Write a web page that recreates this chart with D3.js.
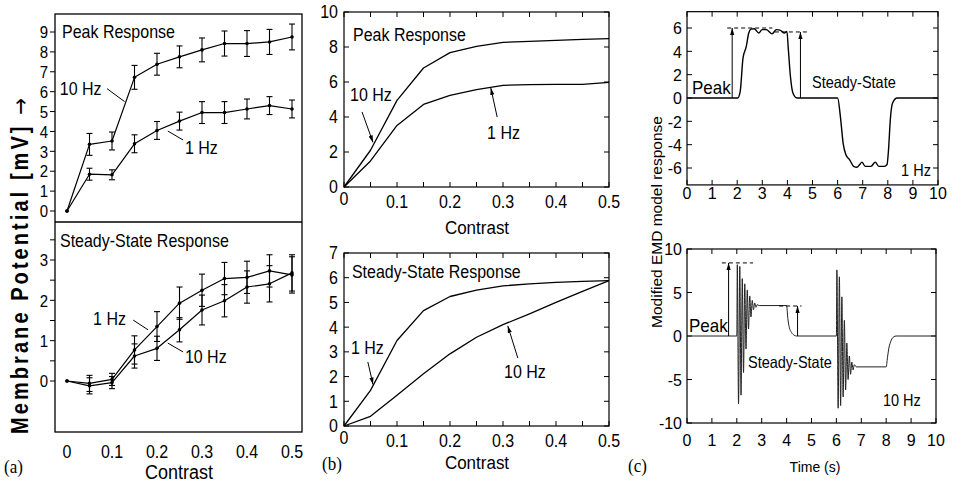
<!DOCTYPE html>
<html><head><meta charset="utf-8">
<script src="https://cdn.jsdelivr.net/npm/d3@7"></script>
<style>
body{margin:0;background:#fff}
svg{display:block}
text{font-family:"Liberation Sans",Arial,Helvetica,sans-serif;fill:#000}
</style></head>
<body><svg id="fig" width="955" height="482"></svg>
<script>
// ---------------- DATA ----------------
const contrast = [0,0.05,0.1,0.15,0.2,0.25,0.3,0.35,0.4,0.45,0.5];
// (a) experimental
const expPeak10    = [0,3.35,3.52,6.72,7.38,7.75,8.1,8.42,8.42,8.5,8.75];
const expPeak10Err = [0,0.55,0.45,0.6,0.55,0.55,0.6,0.63,0.65,0.63,0.65];
const expPeak1     = [0,1.85,1.82,3.38,4.05,4.52,4.95,4.95,5.13,5.3,5.13];
const expPeak1Err  = [0,0.3,0.25,0.45,0.45,0.45,0.55,0.55,0.5,0.45,0.45];
const expSS1       = [0,-0.06,0.04,0.77,1.35,1.93,2.25,2.54,2.57,2.73,2.63];
const expSS1Err    = [0,0.2,0.15,0.35,0.37,0.4,0.4,0.4,0.4,0.4,0.45];
const expSS10      = [0,-0.12,-0.04,0.62,0.81,1.27,1.76,1.99,2.33,2.41,2.68];
const expSS10Err   = [0,0.2,0.15,0.3,0.3,0.3,0.37,0.4,0.4,0.45,0.45];
// (b) model
const modPeak10 = [0,2.1,4.95,6.8,7.68,8.04,8.27,8.32,8.38,8.43,8.48];
const modPeak1  = [0,1.49,3.52,4.72,5.24,5.56,5.81,5.85,5.87,5.87,5.98];
const modSS1    = [0,1.44,3.46,4.67,5.24,5.5,5.67,5.75,5.81,5.85,5.88];
const modSS10   = [0,0.39,1.24,2.11,2.92,3.59,4.1,4.54,5.0,5.45,5.88];
// (c) time courses
const time1Hz = [0,2.02,2.12,2.23,2.36,2.46,2.55,2.68,2.86,2.99,3.16,3.39,3.56,3.72,3.88,3.98,4.04,4.12,4.22,4.38,
                 6.0,6.11,6.22,6.33,6.48,6.64,6.77,6.88,6.97,7.1,7.33,7.5,7.64,7.86,7.97,8.03,8.1,8.19,8.37,10];
const resp1Hz = [0,0,0.57,3.4,4.4,5.57,5.9,5.94,5.57,5.86,5.86,5.5,5.86,5.8,5.57,5.7,4.1,1.86,0.43,0,
                 0,-1.57,-3.86,-4.86,-5.3,-5.86,-5.94,-5.7,-5.5,-5.86,-5.86,-5.5,-5.86,-5.86,-5.7,-4.4,-1.86,-0.43,0,0];
const time10Hz = [0,2.0,2.02,2.07,2.12,2.17,2.22,2.27,2.32,2.37,2.42,2.47,2.52,2.57,2.62,2.67,2.72,2.77,2.82,2.9,4.0,4.05,4.1,4.2,4.3,4.4,
                  6.0,6.02,6.07,6.12,6.17,6.22,6.27,6.32,6.37,6.42,6.47,6.52,6.57,6.62,6.67,6.72,6.8,8.0,8.05,8.1,8.2,8.3,8.4,10];
const resp10Hz = [0,0,8.2,-7.8,8.0,-6.8,6.6,-4.2,6.0,-1.5,5.3,0.8,4.6,2.2,4.1,3.0,3.8,3.3,3.6,3.5,3.5,2.0,1.1,0.4,0.1,0,
                  0,7.6,-8.3,6.8,-8.0,4.5,-7.0,1.8,-6.2,-0.8,-5.0,-2.3,-4.4,-3.0,-3.9,-3.3,-3.55,-3.55,-2.5,-1.5,-0.5,-0.1,0,0];
// tick labels
const aPeakTicks = [0,1,2,3,4,5,6,7,8,9];
const aSSTicks = [0,1,2,3];
const aSSMinor = [0,0.5,1,1.5,2,2.5,3,3.5];
const contrastTicks = [0,0.1,0.2,0.3,0.4,0.5];
const contrastMinor = [0,0.05,0.1,0.15,0.2,0.25,0.3,0.35,0.4,0.45,0.5];
const bPeakTicks = [0,2,4,6,8,10];
const bSSTicks = [0,1,2,3,4,5,6,7];
const timeTicks = [0,1,2,3,4,5,6,7,8,9,10];
const c1Ticks = [-6,-4,-2,0,2,4,6];
const c10Ticks = [-10,-5,0,5,10];

// ---------------- HELPERS ----------------
const svg = d3.select('#fig');
const defs = svg.append('defs');
defs.append('marker').attr('id','ah').attr('viewBox','0 0 10 10').attr('refX',10).attr('refY',5)
  .attr('markerWidth',7).attr('markerHeight',7).attr('orient','auto').attr('markerUnits','userSpaceOnUse')
  .append('path').attr('d','M0,2L10,5L0,8z').attr('fill','#000');

function txt(x, y, s, size, anchor, sy, extra) {
  const t = svg.append('text')
    .attr('transform', `translate(${x},${y}) scale(1,${sy||1})`)
    .attr('y', 0.36*size).attr('text-anchor', anchor||'start')
    .attr('font-size', size).text(s);
  if (extra) extra(t);
  return t;
}
function seg(x1,y1,x2,y2,w,dash,marker){
  const l = svg.append('line').attr('x1',x1).attr('y1',y1).attr('x2',x2).attr('y2',y2)
    .attr('stroke','#000').attr('stroke-width',w||1);
  if(dash) l.attr('stroke-dasharray',dash);
  if(marker) l.attr('marker-end','url(#ah)');
  return l;
}
function frame(x0,y0,x1,y1,w){
  svg.append('rect').attr('x',x0).attr('y',y0).attr('width',x1-x0).attr('height',y1-y0)
    .attr('fill','none').attr('stroke','#000').attr('stroke-width',w||1.2);
}
function pathXY(xs, ys, sx, sy, w, curve, col){
  const pts = xs.map((x,i)=>[x,ys[i]]);
  svg.append('path').attr('d', d3.line().x(d=>sx(d[0])).y(d=>sy(d[1])).curve(curve||d3.curveLinear)(pts))
    .attr('fill','none').attr('stroke',col||'#000').attr('stroke-width',w||1.2).attr('stroke-linejoin','round');
}

// ---------------- PANEL (a) ----------------
const xA = d3.scaleLinear([0,0.5],[67,292]);
const yAt = d3.scaleLinear([0,9],[211,32]);
const yAb = d3.scaleLinear([0,3],[381,260]);
const sA = 1.2;
frame(55,14,302,432,1.3);
seg(55,222,302,222,1.3);
aPeakTicks.forEach(v=>{ seg(50,yAt(v),55,yAt(v),1); txt(48,yAt(v),String(v),15,'end',1.15); });
aSSMinor.forEach(v=>{ seg(50,yAb(v),55,yAb(v),1); });
aSSTicks.forEach(v=>{ txt(48,yAb(v),String(v),15,'end',1.15); });
contrastTicks.forEach(v=>{ txt(xA(v),451,String(v),16,'middle',sA); });
txt(179,472,'Contrast',18,'middle',1.12);
txt(4,466,'(a)',17,'start',1.1,t=>t.style('font-family','"Liberation Serif",serif'));
const ylab = svg.append('text').attr('transform','translate(28,266) rotate(-90) scale(1,1.15)')
  .attr('text-anchor','middle').attr('font-size',20).attr('font-weight','bold')
  .attr('textLength',336).attr('lengthAdjust','spacing');
ylab.append('tspan').text('Membrane Potential [mV] ');
ylab.append('tspan').style('font-family','"DejaVu Sans",sans-serif').attr('font-weight','normal').text('\u2192');

function errSeries(vals, errs, ys){
  pathXY(contrast, vals, xA, ys, 1.2);
  contrast.forEach((c,i)=>{
    const x = xA(c);
    if (errs[i] > 0){
      seg(x, ys(vals[i]-errs[i]), x, ys(vals[i]+errs[i]), 1.1);
      seg(x-3, ys(vals[i]-errs[i]), x+3, ys(vals[i]-errs[i]), 1.1);
      seg(x-3, ys(vals[i]+errs[i]), x+3, ys(vals[i]+errs[i]), 1.1);
    }
    svg.append('circle').attr('cx',x).attr('cy',ys(vals[i])).attr('r',1.8).attr('fill','#000');
  });
}
errSeries(expPeak10, expPeak10Err, yAt);
errSeries(expPeak1, expPeak1Err, yAt);
errSeries(expSS1, expSS1Err, yAb);
errSeries(expSS10, expSS10Err, yAb);

txt(xA(-0.011), yAt(9.05), 'Peak Response', 16, 'start', sA);
txt(xA(-0.016), yAt(6.2), '10 Hz', 16, 'start', sA);
seg(xA(0.089), yAt(6.15), xA(0.128), yAt(5.5), 1);
txt(xA(0.262), yAt(3.2), '1 Hz', 16, 'start', sA);
seg(xA(0.224), yAt(4.02), xA(0.258), yAt(3.57), 1);

txt(xA(-0.0156), yAb(3.5), 'Steady-State Response', 16, 'start', sA);
txt(xA(0.058), yAb(1.56), '1 Hz', 16, 'start', sA);
seg(xA(0.147), yAb(1.51), xA(0.18), yAb(1.27), 1);
txt(xA(0.262), yAb(0.62), '10 Hz', 16, 'start', sA);
seg(xA(0.224), yAb(0.94), xA(0.258), yAb(0.72), 1);

// ---------------- PANEL (b) ----------------
const xB = d3.scaleLinear([0,0.5],[344,609]);
const yBt = d3.scaleLinear([0,10],[187,12]);
const yBb = d3.scaleLinear([0,7],[426,253]);
const sB = 1.12;
function boxTicks(x0,x1,y0,y1,xs,xsc,ys,ysc,len){
  xs.forEach(v=>{ const x=xsc(v); seg(x,y1,x,y1-len,1); seg(x,y0,x,y0+len,1); });
  ys.forEach(v=>{ const y=ysc(v); seg(x0,y,x0+len,y,1); seg(x1,y,x1-len,y,1); });
}
frame(344,yBt(10),609,187,1.2);
boxTicks(344,609,yBt(10),187,contrastMinor,xB,bPeakTicks,yBt,5);
bPeakTicks.forEach(v=>txt(338,yBt(v),String(v),16,'end',sB));
contrastTicks.forEach(v=>txt(xB(v), v===0?199:202, String(v),16,'middle',sB));
txt(477,227,'Contrast',17,'middle',sB);
pathXY(contrast, modPeak10, xB, yBt, 1.3);
pathXY(contrast, modPeak1, xB, yBt, 1.3);
txt(xB(0.017), yBt(8.69), 'Peak Response', 16, 'start', sB);
txt(xB(0.0113), yBt(5.26), '10 Hz', 16, 'start', sB);
seg(xB(0.034), yBt(4.29), xB(0.0547), yBt(2.55), 1, null, true);
txt(xB(0.27), yBt(3.14), '1 Hz', 16, 'start', sB);
seg(xB(0.289), yBt(4.0), xB(0.277), yBt(5.66), 1, null, true);

frame(344,253,609,426,1.2);
boxTicks(344,609,253,426,contrastMinor,xB,bSSTicks,yBb,5);
bSSTicks.forEach(v=>txt(338,yBb(v),String(v),16,'end',sB));
contrastTicks.forEach(v=>txt(xB(v), v===0?438:441, String(v),16,'middle',sB));
txt(477,462,'Contrast',17,'middle',sB);
txt(322,463,'(b)',17,'start',1.1,t=>t.style('font-family','"Liberation Serif",serif'));
pathXY(contrast, modSS1, xB, yBb, 1.3);
pathXY(contrast, modSS10, xB, yBb, 1.3);
txt(xB(0.015), yBb(6.24), 'Steady-State Response', 16, 'start', sB);
txt(xB(0.0132), yBb(3.16), '1 Hz', 16, 'start', sB);
seg(xB(0.045), yBb(2.59), xB(0.0547), yBb(1.68), 1, null, true);
txt(xB(0.302), yBb(2.19), '10 Hz', 16, 'start', sB);
seg(xB(0.328), yBb(2.75), xB(0.309), yBb(4.05), 1, null, true);

// ---------------- PANEL (c) ----------------
const xC1 = d3.scaleLinear([0,10],[687,938]);
const yC1 = d3.scaleLinear([-6,6],[168,28]);
const xC2 = d3.scaleLinear([0,10],[687,936]);
const yC2 = d3.scaleLinear([-10,10],[423,249]);
const sC = 1.08;
frame(687,yC1(7.4),938,yC1(-7.45),1.2);
boxTicks(687,938,yC1(7.4),yC1(-7.45),timeTicks,xC1,c1Ticks,yC1,5);
c1Ticks.forEach(v=>txt(682,yC1(v),String(v),16,'end',sC));
timeTicks.forEach(v=>txt(xC1(v),193,String(v),16,'middle',sC));
pathXY(time1Hz, resp1Hz, xC1, yC1, 1.4, d3.curveMonotoneX);
seg(xC1(1.6),yC1(6.0),xC1(3.4),yC1(6.0),1,'4,3');
seg(xC1(3.5),yC1(5.66),xC1(4.85),yC1(5.66),1,'4,3');
seg(xC1(1.8),yC1(0),xC1(1.8),yC1(6.0),1,null,true);
seg(xC1(4.52),yC1(0),xC1(4.52),yC1(5.66),1,null,true);
txt(xC1(0.2),yC1(0.94),'Peak',17,'start',sC);
txt(xC1(4.98),yC1(1.37),'Steady-State',14.5,'start',sC);
txt(xC1(8.53),yC1(-6.17),'1 Hz',14.5,'start',sC);

frame(687,249,936,423,1.2);
boxTicks(687,936,249,423,timeTicks,xC2,c10Ticks,yC2,5);
c10Ticks.forEach(v=>txt(682,yC2(v),String(v),16,'end',sC));
timeTicks.forEach(v=>txt(xC2(v),440,String(v),16,'middle',sC));
pathXY(time10Hz, resp10Hz, xC2, yC2, 1, d3.curveMonotoneX, '#222');
seg(xC2(1.4),yC2(8.4),xC2(2.65),yC2(8.4),1,'4,3');
seg(xC2(3.7),yC2(3.45),xC2(4.6),yC2(3.45),1,'4,3');
seg(xC2(1.67),yC2(0),xC2(1.67),yC2(8.4),1,null,true);
seg(xC2(4.44),yC2(0),xC2(4.44),yC2(3.45),1,null,true);
txt(xC2(0.08),yC2(1.26),'Peak',17,'start',sC);
txt(xC2(2.45),yC2(-2.99),'Steady-State',14.5,'start',sC);
txt(xC2(7.87),yC2(-7.36),'10 Hz',14.5,'start',sC);
txt(815,467,'Time (s)',14,'middle',sC);
svg.append('text').attr('transform','translate(657,222) rotate(-90)')
  .attr('text-anchor','middle').attr('y',5).attr('font-size',15.5).text('Modified EMD model response');
txt(628,465,'(c)',17,'start',1.1,t=>t.style('font-family','"Liberation Serif",serif'));
</script></body></html>
